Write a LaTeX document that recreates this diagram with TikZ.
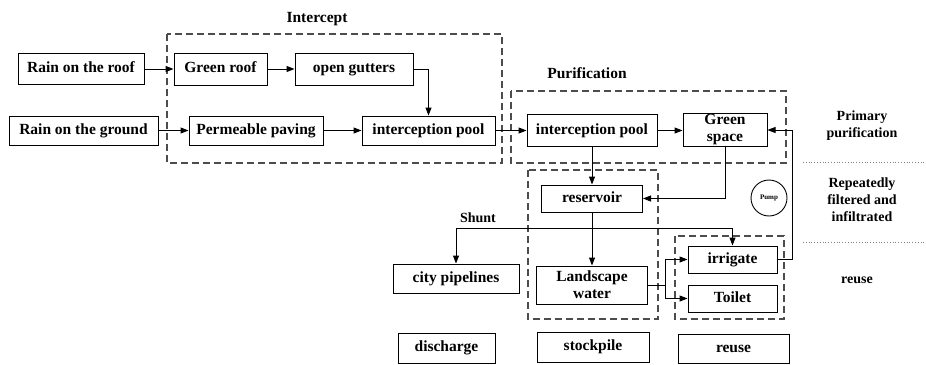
\documentclass[tikz,border=0pt]{standalone}
\usepackage{fontspec}
\setmainfont{Liberation Serif}
\usetikzlibrary{arrows.meta}
\tikzset{
  box/.style={draw, line width=1pt, inner sep=0pt, align=center,
    font=\fontsize{15.5}{17}\selectfont\bfseries},
  one/.style={text height=11pt, text depth=3.5pt},
  grp/.style={draw=black!70, line width=1.3pt, dash pattern=on 7pt off 4pt},
  arr/.style={draw, line width=1pt, -{Triangle[length=8pt,width=6pt]}},
  ln/.style={draw, line width=1pt},
  lbl/.style={inner sep=0pt, align=center, font=\fontsize{15.5}{17}\selectfont\bfseries},
  side/.style={inner sep=0pt, align=center, font=\fontsize{14}{17}\selectfont\bfseries},
  sep/.style={draw=black!50, line width=0.8pt, dotted}
}
\begin{document}
\begin{tikzpicture}[x=1pt,y=-1pt]
\useasboundingbox (0,0) rectangle (926,364);
% group frames
\draw[grp] (167,34) rectangle (502,163);
\draw[grp] (511,91) rectangle (786,163);
\draw[grp] (528,170) rectangle (658,319);
\draw[grp] (675,236) rectangle (784,319);
% group labels
\node[lbl] (lint) at (317,19) {Intercept};
\node[lbl] (lpur) at (587,73) {Purification};
\node[side] (lshunt) at (478,218) {Shunt};
% boxes
\node[box, one, minimum width=126pt, minimum height=31pt] (roof) at (81,69) {Rain on the roof};
\node[box, one, minimum width=93pt, minimum height=32pt] (groof) at (220.5,69) {Green roof};
\node[box, one, minimum width=118pt, minimum height=32pt] (gut) at (354,69) {open gutters};
\node[box, one, minimum width=149pt, minimum height=29pt] (ground) at (83.5,130.5) {Rain on the ground};
\node[box, one, minimum width=134pt, minimum height=29pt] (pave) at (256,130.5) {Permeable paving};
\node[box, one, minimum width=133pt, minimum height=29pt] (pool1) at (428.5,130.5) {interception pool};
\node[box, one, minimum width=130pt, minimum height=32pt] (pool2) at (592,130.5) {interception pool};
\node[box, minimum width=84pt, minimum height=33pt] (gsp) at (725,130) {Green\\space};
\node[box, one, minimum width=101pt, minimum height=27pt] (res) at (592,198.5) {reservoir};
\node[box, one, minimum width=126pt, minimum height=29pt] (city) at (456,278.5) {city pipelines};
\node[box, minimum width=111pt, minimum height=38pt] (land) at (592,285) {Landscape\\water};
\node[box, one, minimum width=89pt, minimum height=27pt] (irr) at (732.5,259.5) {irrigate};
\node[box, one, minimum width=89pt, minimum height=27pt] (toil) at (732.5,298.5) {Toilet};
\node[box, one, minimum width=97pt, minimum height=30pt] (dis) at (446.5,348) {discharge};
\node[box, one, minimum width=112pt, minimum height=30pt] (stock) at (593,347) {stockpile};
\node[box, one, minimum width=111pt, minimum height=29pt] (reuseb) at (733.5,348.5) {reuse};
% pump
\node[draw, circle, line width=0.9pt, minimum size=36pt, inner sep=0pt,
  font=\fontsize{7}{8}\selectfont\bfseries] (pump) at (769,198) {Pump};
% side labels
\node[side] (s1) at (862,126) {Primary\\purification};
\node[side] (s2) at (862,200) {Repeatedly\\filtered and\\infiltrated};
\node[side] (s3) at (857,280) {reuse};
\coordinate (d1a) at (803,162); \coordinate (d1b) at (926,162);
\coordinate (d2a) at (803,242); \coordinate (d2b) at (926,242);
\draw[sep] (d1a) -- (d1b);
\draw[sep] (d2a) -- (d2b);
% connectors
\draw[arr] (roof) -- (groof);
\draw[arr] (groof) -- (gut);
\draw[arr] (gut.east) -| (pool1.north);
\draw[arr] (ground) -- (pave);
\draw[arr] (pave) -- (pool1);
\draw[arr] (pool1) -- (pool2);
\draw[arr] (pool2.east) -- (gsp.west |- pool2.east);
\draw[arr] (pool2) -- (res);
\draw[arr] (gsp.south) |- (res.east);
\draw[arr] (res) -- (land);
\coordinate (sh) at (592,228);
\draw[arr] (sh) -| (city.north);
\draw[arr] (sh) -| (irr.north);
\coordinate (split) at (665,285);
\draw[ln] (land.east) -- (split);
\draw[arr] (split) |- (irr.west);
\draw[arr] (split) |- (toil.west);
\coordinate (fb) at (792,259.5);
\draw[ln] (irr.east) -- (fb);
\draw[arr] (fb) |- (gsp.east);
\end{tikzpicture}
\end{document}
